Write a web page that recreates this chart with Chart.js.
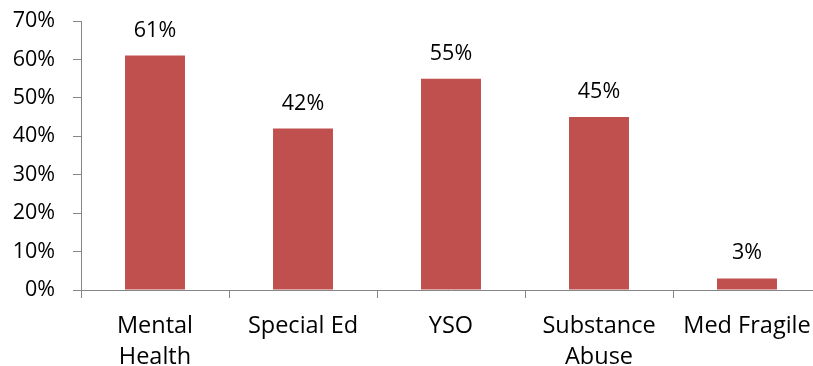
<!DOCTYPE html>
<html>
<head>
<meta charset="utf-8">
<script src="https://cdn.jsdelivr.net/npm/chart.js@4/dist/chart.umd.min.js"></script>
<style>
  html, body { margin: 0; padding: 0; background: #fff; overflow: hidden; }
  #wrap { width: 813px; height: 366px; overflow: hidden; position: relative; }
  #box { width: 826px; height: 366px; position: absolute; left: 0; top: 0; }
</style>
</head>
<body>
<div id="wrap"><div id="box"><canvas id="c"></canvas></div></div>
<script>
const categories = [["Mental", "Health"], "Special Ed", "YSO", ["Substance", "Abuse"], "Med Fragile"];
const shares = [61, 42, 55, 45, 3];
const yTicks = [0, 10, 20, 30, 40, 50, 60, 70];

const FONT = "'Open Sans', 'Liberation Sans', sans-serif";
const AXIS = '#868686';

// Percent label above each bar
const valueLabels = {
  id: 'valueLabels',
  afterDatasetsDraw(chart) {
    const ctx = chart.ctx;
    const meta = chart.getDatasetMeta(0);
    ctx.save();
    ctx.fillStyle = '#000';
    ctx.font = '21.5px ' + FONT;
    ctx.textAlign = 'center';
    ctx.textBaseline = 'alphabetic';
    meta.data.forEach((bar, i) => {
      ctx.fillText(shares[i] + '%', bar.x, bar.y - 19);
    });
    ctx.restore();
  }
};

new Chart(document.getElementById('c'), {
  type: 'bar',
  data: {
    labels: categories,
    datasets: [{
      data: shares,
      backgroundColor: '#C0504D',
      borderWidth: 0,
      categoryPercentage: 1,
      barPercentage: 0.405
    }]
  },
  options: {
    responsive: true,
    maintainAspectRatio: false,
    animation: false,
    layout: { padding: { top: 21, right: 5, left: 0, bottom: 0 } },
    plugins: { legend: { display: false }, tooltip: { enabled: false } },
    scales: {
      x: {
        grid: { offset: true, drawOnChartArea: false, drawTicks: true, tickLength: 8, color: AXIS },
        border: { color: AXIS, width: 1 },
        ticks: { color: '#000', font: { family: FONT, size: 23.5, lineHeight: 1.35 }, padding: 12, maxRotation: 0, autoSkip: false },
        afterFit(scale) { scale.height = 76; scale.paddingLeft = 0; scale.paddingRight = 0; }
      },
      y: {
        min: 0, max: 70,
        afterBuildTicks(scale) { scale.ticks = yTicks.map(v => ({ value: v })); },
        grid: { drawOnChartArea: false, drawTicks: true, tickLength: 8, color: AXIS },
        border: { color: AXIS, width: 1 },
        ticks: { color: '#000', font: { family: FONT, size: 21.5 }, padding: 18, callback: v => v + '%' },
        afterFit(scale) { scale.width = 81; scale.paddingTop = 0; scale.paddingBottom = 0; }
      }
    }
  },
  plugins: [valueLabels]
});
</script>
</body>
</html>
